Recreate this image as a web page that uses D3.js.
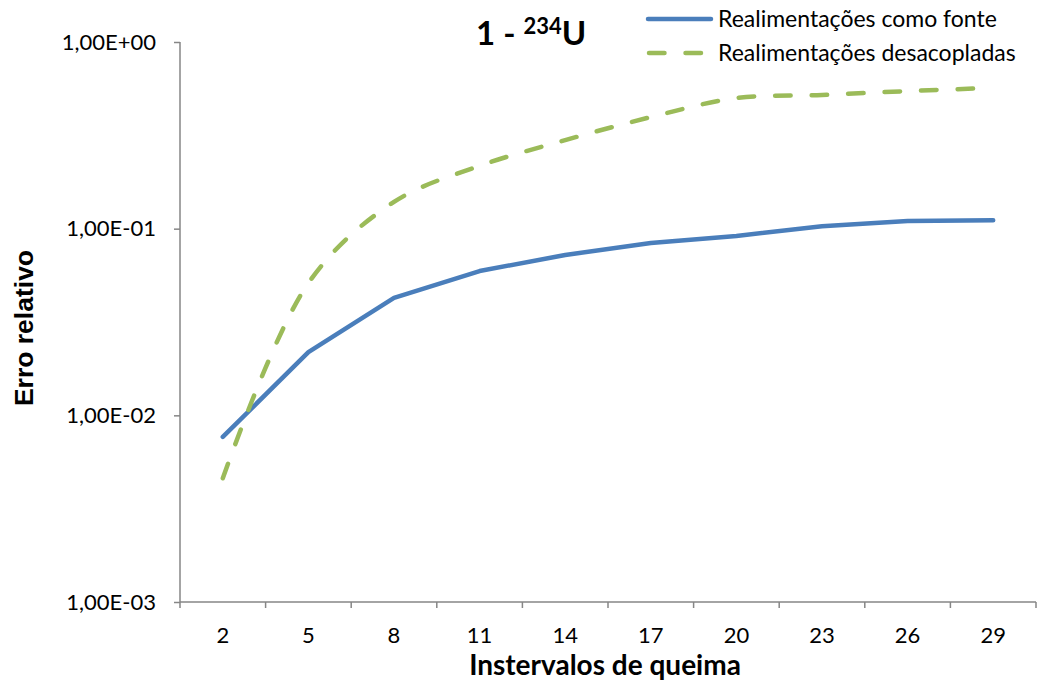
<!DOCTYPE html>
<html>
<head>
<meta charset="utf-8">
<script src="https://cdn.jsdelivr.net/npm/d3@7/dist/d3.min.js"></script>
<style>
  html, body { margin: 0; padding: 0; background: #fff; }
  svg { display: block; }
  text { font-family: Lato, "Open Sans", sans-serif; fill: #000; }
</style>
</head>
<body>
<svg id="chart" width="1039" height="682"></svg>
<script>
// Burn-up intervals on the category axis
const intervals = ["2", "5", "8", "11", "14", "17", "20", "23", "26", "29"];

// Relative error of 234U for each feedback treatment
const fonteValues = [0.00766, 0.0218, 0.0426, 0.0593, 0.0723, 0.0837, 0.0914, 0.103, 0.110, 0.111];
const desacopladasValues = [0.0046, 0.0512, 0.139, 0.217, 0.298, 0.396, 0.501, 0.520, 0.546, 0.568];

// Decade ticks on the log axis
const yTickValues = [1e-3, 1e-2, 1e-1, 1e0];
const yTickLabels = ["1,00E-03", "1,00E-02", "1,00E-01", "1,00E+00"];

const seriesNames = ["Realimentações como fonte", "Realimentações desacopladas"];

const svg = d3.select("#chart");
const plotLeft = 180, plotRight = 1036, plotTop = 42, plotBottom = 602;
const axisColor = "#868686";
const blue = "#4A7EBB", green = "#9BBB59";
const dash = "15.5,21";

const x = d3.scaleBand().domain(intervals).range([plotLeft, plotRight]).padding(0);
const y = d3.scaleLog().domain([1e-3, 1e0]).range([plotBottom, plotTop]);

// Y axis
const yAxis = d3.axisLeft(y)
  .tickValues(yTickValues)
  .tickFormat((d, i) => yTickLabels[i])
  .tickSize(6)
  .tickPadding(18);
const gy = svg.append("g").attr("transform", `translate(${plotLeft},0)`).call(yAxis);
gy.select(".domain").attr("stroke", axisColor).attr("stroke-width", 1.5).attr("d", `M0,${plotTop}V${plotBottom}`);
gy.selectAll(".tick line").attr("stroke", axisColor).attr("stroke-width", 1.5);
gy.selectAll(".tick text").style("font-size", "22px").style("font-family", "Lato, sans-serif").attr("fill", "#000");

// X axis: ticks between categories
const gx = svg.append("g").attr("transform", `translate(0,${plotBottom})`);
gx.append("line").attr("x1", plotLeft).attr("x2", plotRight).attr("y1", 0).attr("y2", 0)
  .attr("stroke", axisColor).attr("stroke-width", 1.5);
const boundaries = intervals.map(d => x(d)).concat([x(intervals[intervals.length - 1]) + x.bandwidth()]);
gx.selectAll("line.tk").data(boundaries).enter().append("line")
  .attr("x1", d => d).attr("x2", d => d).attr("y1", 0).attr("y2", 6)
  .attr("stroke", axisColor).attr("stroke-width", 1.5);
gx.selectAll("text.lbl").data(intervals).enter().append("text")
  .attr("x", d => x(d) + x.bandwidth() / 2).attr("y", 41)
  .attr("text-anchor", "middle").style("font-size", "22px").text(d => d);

// Series lines
const cx = d => x(d) + x.bandwidth() / 2;
const lineStraight = d3.line().x((v, i) => cx(intervals[i])).y(v => y(v));
const lineSmooth = d3.line().x((v, i) => cx(intervals[i])).y(v => y(v)).curve(d3.curveCatmullRom.alpha(0.5));

svg.append("path").datum(fonteValues).attr("d", lineStraight)
  .attr("fill", "none").attr("stroke", blue).attr("stroke-width", 4.5)
  .attr("stroke-linecap", "round").attr("stroke-linejoin", "round");
svg.append("path").datum(desacopladasValues).attr("d", lineSmooth)
  .attr("fill", "none").attr("stroke", green).attr("stroke-width", 4.5)
  .attr("stroke-dasharray", dash).attr("stroke-linecap", "round");

// Title
const title = svg.append("text").attr("x", 476).attr("y", 45)
  .style("font-size", "33px").style("font-weight", "bold");
title.append("tspan").text("1 - ");
title.append("tspan").attr("dy", -11).style("font-size", "22px").text("234");
title.append("tspan").attr("dy", 11).text("U");

// Legend
const legend = svg.append("g");
legend.append("line").attr("x1", 648).attr("x2", 711).attr("y1", 19).attr("y2", 19)
  .attr("stroke", blue).attr("stroke-width", 4.5).attr("stroke-linecap", "round");
legend.append("line").attr("x1", 649).attr("x2", 703).attr("y1", 53).attr("y2", 53)
  .attr("stroke", green).attr("stroke-width", 4.5).attr("stroke-dasharray", dash).attr("stroke-linecap", "round");
legend.selectAll("text").data(seriesNames).enter().append("text")
  .attr("x", 718).attr("y", (d, i) => 27 + i * 34).style("font-size", "23px").text(d => d);

// Axis titles
svg.append("text").attr("x", 605).attr("y", 675).attr("text-anchor", "middle")
  .style("font-size", "28px").style("font-weight", "bold").text("Instervalos de queima");
svg.append("text").attr("transform", "translate(33,328) rotate(-90)").attr("text-anchor", "middle")
  .style("font-family", "'Liberation Sans', Arial, sans-serif")
  .style("font-size", "26.5px").style("font-weight", "bold").text("Erro relativo");
</script>
</body>
</html>
